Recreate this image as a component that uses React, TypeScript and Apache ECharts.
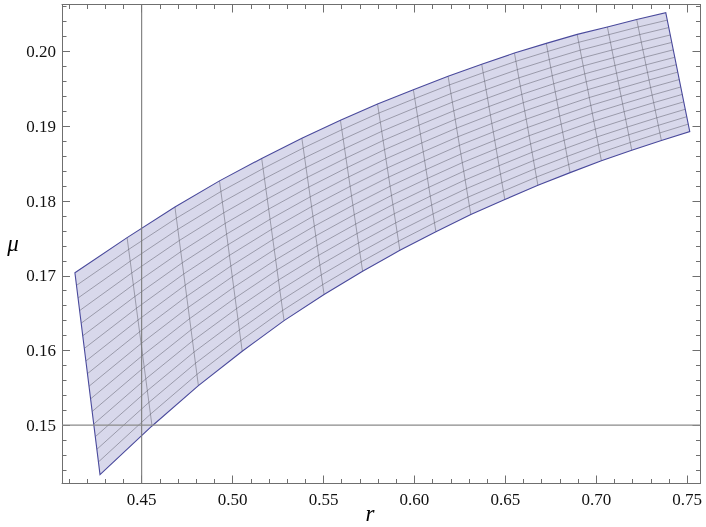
import React, { useEffect, useRef } from "react";
import * as echarts from "echarts";

// Plot range (r on x, mu on y)
const X_MIN = 0.4062;
const X_MAX = 0.7573;
const Y_MIN = 0.1422;
const Y_MAX = 0.2063;

// Tick labels
const X_MAJOR = [0.45, 0.5, 0.55, 0.6, 0.65, 0.7, 0.75];
const Y_MAJOR = [0.15, 0.16, 0.17, 0.18, 0.19, 0.2];

// Mesh nodes on the upper boundary (one per mesh column, corners included)
const TOP_R = [0.4133, 0.442, 0.4683, 0.4928, 0.516, 0.5381, 0.5593, 0.5797, 0.5994, 0.6185, 0.637, 0.655, 0.6725, 0.6895, 0.7061, 0.7222, 0.7382];
const TOP_MU = [0.1704, 0.1751, 0.1792, 0.1827, 0.1857, 0.1884, 0.1908, 0.193, 0.1949, 0.1967, 0.1983, 0.1998, 0.2011, 0.2023, 0.2033, 0.2043, 0.2052];
// Mesh nodes on the lower boundary
const BOTTOM_R = [0.4271, 0.4557, 0.4812, 0.5053, 0.5283, 0.5503, 0.5715, 0.592, 0.6118, 0.631, 0.6497, 0.6679, 0.6856, 0.7028, 0.7195, 0.7358, 0.7514];
const BOTTOM_MU = [0.1434, 0.1499, 0.1553, 0.1599, 0.164, 0.1675, 0.1706, 0.1734, 0.1759, 0.1782, 0.1802, 0.1821, 0.1838, 0.1854, 0.1868, 0.1881, 0.1893];
// number of mesh cells across the band (between upper and lower boundary)
const MESH_ACROSS = 16;

// Axes drawn through the origin point of the plot
const AXIS_R = 0.45;
const AXIS_MU = 0.15;

const FRAME = "#6f6f6f";
const FONT = "Liberation Serif";

function minorTicks(majors: number[], lo: number, hi: number, step: number): number[] {
  const out: number[] = [];
  const start = Math.ceil(lo / step - 1e-9);
  const end = Math.floor(hi / step + 1e-9);
  for (let i = start; i <= end; i++) {
    const v = +(i * step).toFixed(6);
    if (!majors.some((m) => Math.abs(m - v) < 1e-9)) out.push(v);
  }
  return out;
}

const X_MINOR = minorTicks(X_MAJOR, X_MIN, X_MAX, 0.01);
const Y_MINOR = minorTicks(Y_MAJOR, Y_MIN, Y_MAX, 0.002);

function makeAxis(kind: "x" | "y", position: string, ticks: number[], len: number, showLine: boolean, showLabel: boolean) {
  const axis: any = {
    type: "value",
    position,
    min: kind === "x" ? X_MIN : Y_MIN,
    max: kind === "x" ? X_MAX : Y_MAX,
    axisLine: { show: showLine, onZero: false, lineStyle: { color: FRAME, width: 1 } },
    axisTick: { show: true, inside: true, length: len, customValues: ticks, lineStyle: { color: FRAME, width: 1 } },
    splitLine: { show: false },
  };
  if (showLabel) {
    axis.axisLabel = {
      customValues: ticks,
      formatter: (v: number) => v.toFixed(2),
      margin: kind === "x" ? 7 : 6,
      color: "#111",
      fontFamily: FONT,
      fontSize: 17,
    };
  } else {
    axis.axisLabel = { show: false };
  }
  return axis;
}

export default function App() {
  const ref = useRef<HTMLDivElement>(null);
  useEffect(() => {
    if (!ref.current) return;
    const chart = echarts.init(ref.current, null, { renderer: "svg" });
    const option: any = {
      animation: false,
      grid: { left: 62, right: 5.5, top: 4.5, bottom: 43.5 },
      xAxis: [
        makeAxis("x", "bottom", X_MAJOR, 8, true, true),
        makeAxis("x", "bottom", X_MINOR, 4.5, false, false),
        makeAxis("x", "top", X_MAJOR, 8, true, false),
        makeAxis("x", "top", X_MINOR, 4.5, false, false),
      ],
      yAxis: [
        makeAxis("y", "left", Y_MAJOR, 8, true, true),
        makeAxis("y", "left", Y_MINOR, 4.5, false, false),
        makeAxis("y", "right", Y_MAJOR, 8, true, false),
        makeAxis("y", "right", Y_MINOR, 4.5, false, false),
      ],
      graphic: [
        {
          type: "text",
          x: 370,
          y: 513,
          style: { text: "r", fontFamily: FONT, fontStyle: "italic", fontSize: 23, fill: "#000", align: "center", verticalAlign: "middle" },
        },
        {
          type: "text",
          x: 13,
          y: 243,
          style: { text: "μ", fontFamily: FONT, fontStyle: "italic", fontSize: 23, fill: "#000", align: "center", verticalAlign: "middle" },
        },
      ],
      series: [
        {
          type: "line",
          xAxisIndex: 0,
          yAxisIndex: 0,
          data: [[AXIS_R, Y_MIN], [AXIS_R, Y_MAX]],
          symbol: "none",
          silent: true,
          lineStyle: { color: "#7a7a7a", width: 1.1 },
        },
        {
          type: "line",
          xAxisIndex: 0,
          yAxisIndex: 0,
          data: [[X_MIN, AXIS_MU], [X_MAX, AXIS_MU]],
          symbol: "none",
          silent: true,
          lineStyle: { color: "#8a8a8a", width: 1.3 },
        },
        {
          type: "custom",
          coordinateSystem: "cartesian2d",
          xAxisIndex: 0,
          yAxisIndex: 0,
          silent: true,
          data: [[TOP_R[0], TOP_MU[0]]],
          renderItem: (_params: any, api: any) => {
            const top = TOP_R.map((r, i) => api.coord([r, TOP_MU[i]]));
            const bot = BOTTOM_R.map((r, i) => api.coord([r, BOTTOM_MU[i]]));
            const outline = [...top, ...bot.slice().reverse()];
            const children: any[] = [];
            children.push({
              type: "polygon",
              shape: { points: outline },
              style: { fill: "rgba(61,61,153,0.2)", stroke: "none" },
            });
            const meshStyle = { stroke: "rgba(70,70,80,0.42)", lineWidth: 1, fill: "none" };
            for (let j = 1; j < top.length - 1; j++) {
              children.push({
                type: "line",
                shape: { x1: top[j][0], y1: top[j][1], x2: bot[j][0], y2: bot[j][1] },
                style: meshStyle,
              });
            }
            for (let k = 1; k < MESH_ACROSS; k++) {
              const t = k / MESH_ACROSS;
              const pts = top.map((p: number[], j: number) => [p[0] + (bot[j][0] - p[0]) * t, p[1] + (bot[j][1] - p[1]) * t]);
              children.push({ type: "polyline", shape: { points: pts }, style: meshStyle });
            }
            children.push({
              type: "polygon",
              shape: { points: outline },
              style: { fill: "none", stroke: "#4a4a9c", lineWidth: 1.1 },
            });
            return { type: "group", children };
          },
        },
      ],
    };
    chart.setOption(option);
    return () => chart.dispose();
  }, []);
  return (
    <>
      <style>{"#chart-box svg text { font-family: 'Liberation Serif', serif !important; }"}</style>
      <div id="chart-box" ref={ref} style={{ position: "fixed", left: 0, top: 0, width: 706, height: 527, fontFamily: "'Liberation Serif', serif" }} />
    </>
  );
}
